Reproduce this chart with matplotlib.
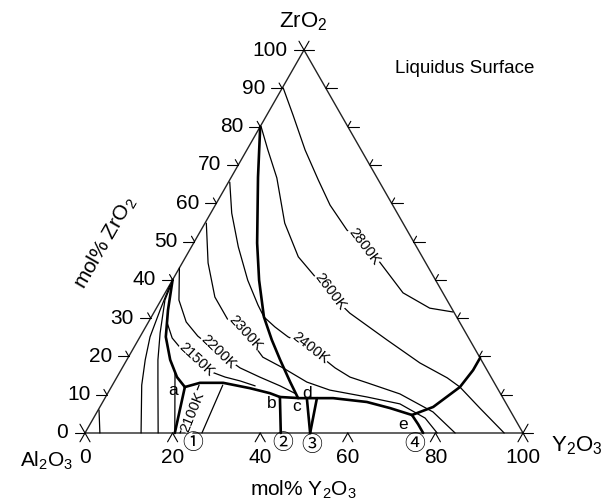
import numpy as np
from matplotlib import pyplot as plt

plt.rcParams['font.family'] = ['Liberation Sans', 'DejaVu Sans']
plt.rcParams['mathtext.default'] = 'regular'

# tick values on the three edges (mol%)
ticks_bottom = [0, 20, 40, 60, 80, 100]
ticks_left = [0, 10, 20, 30, 40, 50, 60, 70, 80, 90, 100]
ticks_side = [10, 20, 30, 40, 50, 60, 70, 80, 90]

# all curves are given as (mol% Y2O3, mol% ZrO2)
# thick boundary lines
zr_bound_y = [0, 6.1, 14.5, 19.8, 25.7, 30.5, 35.0, 40.2, 44.1]
zr_bound_z = [80, 66.8, 49.6, 39.9, 30.3, 24.3, 19.1, 13.3, 9.1]
al_bound_y = [0, 2.9, 5.9, 9.9, 13.7, 16.8]
al_bound_z = [40, 32.1, 25.1, 19.1, 14.6, 12.0]
valley_y = [16.8, 19.7, 25.0, 31.8, 37.0, 39.8, 44.5, 52.1, 60.3, 66.4, 72.3]
valley_z = [12.0, 13.1, 13.1, 11.7, 10.4, 9.4, 9.1, 9.1, 8.1, 6.5, 4.7]
y_bound_y = [72.3, 76.1, 79.6, 80.4, 80.4]
y_bound_z = [4.7, 6.8, 12.0, 16.4, 19.6]
e4_y = [72.3, 74.9, 77.2]
e4_z = [4.7, 2.3, 0]
a1_y = [16.8, 20.5]
a1_z = [12.0, 0]
b2_y = [39.8, 44.7]
b2_z = [9.4, 0]
c3_y = [46.1, 51.4]
c3_z = [9.1, 0]
d3_y = [48.4, 51.4]
d3_z = [9.1, 0]

# thin lines
thin1_y = [12.7, 20.5]
thin1_z = [15.7, 0]
corner1_y = [0.2, 3.4]
corner1_z = [6.0, 0]
corner2_y = [0.1, 1.1, 2.3, 4.2, 6.7, 12.8]
corner2_z = [38.6, 32.1, 25.1, 19.1, 12.5, 0]
corner3_y = [0.2, 0.9, 4.1, 7.1, 10.1, 16.7]
corner3_z = [39.4, 34.7, 26.1, 19.1, 13.1, 0]
slant_y = [25.2, 26.7]
slant_z = [12.5, 0]

# isotherms
iso2100_y = [19.8, 21.7]
iso2100_z = [12.5, 0]
iso2150_y = [4.2, 7.5, 11.3, 15.8, 21.0, 24.7, 28.6, 32.7]
iso2150_z = [29.0, 24.8, 21.7, 19.1, 15.9, 14.6, 13.6, 12.3]
iso2200_y = [0, 4.1, 8.6, 13.1, 19.8, 26.9, 32.6, 38.4, 43.1]
iso2200_z = [43.1, 34.7, 29.0, 25.3, 21.1, 17.0, 14.6, 12.3, 10.2]
iso2300_y = [0.3, 5.9, 11.9, 17.9, 23.5, 30.7, 36.7, 44.0, 50.3, 59.7, 68.1, 75.7, 80.4]
iso2300_z = [54.8, 44.4, 35.5, 29.5, 26.1, 19.8, 17.0, 13.3, 11.2, 9.4, 7.6, 3.9, 0]
iso2400_y = [0.3, 4.8, 10.7, 17.2, 22.8, 25.7, 29.5, 33.8, 40.3, 48.6, 53.2, 57.9, 66.8, 76.7, 84.5]
iso2400_z = [65.5, 57.4, 48.6, 39.9, 33.4, 30.3, 27.7, 25.1, 22.2, 17.0, 14.6, 13.1, 10.2, 5.5, 0]
iso2600_y = [0.2, 4.8, 10.5, 18.2, 25.7, 37.1, 44.8, 56.8, 67.3, 75.5, 79.6, 86.9, 95.7]
iso2600_z = [80.0, 73.9, 66.6, 54.8, 46.0, 36.8, 31.3, 24.3, 18.3, 14.4, 12.0, 6.5, 0]
iso2800_y = [0.2, 6.0, 13.3, 20.2, 26.2, 33.3, 39.3, 45.0, 54.3, 62.4, 68.2]
iso2800_z = [90.1, 83.0, 73.9, 66.1, 59.5, 53.0, 48.8, 44.6, 36.6, 32.6, 31.6]

# isotherm labels: text, mol% Y2O3, mol% ZrO2, angle
iso_labels = [('2800K', 39.3, 48.8, -53), ('2600K', 37.5, 36.8, -53),
              ('2400K', 40.3, 22.2, -38), ('2300K', 23.5, 26.1, -48),
              ('2200K', 19.8, 21.1, -44), ('2150K', 15.8, 19.1, -43),
              ('2100K', 21.9, 5.5, 68)]
# invariant points
point_labels = [('a', 14.5, 11.2), ('b', 38.8, 7.8), ('c', 45.0, 6.8),
                ('d', 45.5, 10.4), ('e', 71.4, 2.3)]
circle_labels = [('\u2460', 26.0, -2.6), ('\u2461', 46.5, -2.6),
                 ('\u2462', 53.4, -3.1), ('\u2463', 76.8, -2.9)]


def tern(y, z):
    # mol% Y2O3 / ZrO2 -> skewed plot coordinates
    y = np.asarray(y, float)
    z = np.asarray(z, float)
    return y + z / 2, z


def line(ax, y, z, lw=0.9, color='black'):
    px, pz = tern(y, z)
    ax.plot(px, pz, color=color, lw=lw, solid_capstyle='round',
            solid_joinstyle='round')


fig = plt.figure(figsize=(6.16, 5), dpi=100)
ax = fig.add_axes([0, 0, 1, 1])
ax.set_xlim(-85 / 4.38, (616 - 85) / 4.38)
ax.set_ylim((433 - 500) / 3.83, 433 / 3.83)
ax.axis('off')

# triangle
line(ax, [0, 100, 0, 0], [0, 0, 100, 0], lw=1.0, color='#222222')

# ticks
t = 2.3
for v in ticks_bottom[1:-1]:
    line(ax, [v, v], [0, -t], lw=0.8)
    line(ax, [v, v + t], [0, -t], lw=0.8)
for v in ticks_side:
    line(ax, [0, -t * 1.1], [v, v], lw=0.8)
    line(ax, [0, -t * 0.6], [v, v + t * 0.6], lw=0.8)
    line(ax, [100 - v, 100 - v + t * 1.1], [v, v], lw=0.8)
    line(ax, [100 - v, 100 - v], [v, v + t * 0.6], lw=0.8)
# corner crosses
line(ax, [-t, 0], [0, 0], lw=0.8)
line(ax, [0, 0], [0, -t], lw=0.8)
line(ax, [-t, t], [t, -t], lw=0.8)
line(ax, [100, 100 + t], [0, 0], lw=0.8)
line(ax, [100, 100 + t], [0, -t], lw=0.8)
line(ax, [100, 100], [-t, t], lw=0.8)
line(ax, [-t, t], [100, 100], lw=0.8)
line(ax, [0, 0], [100, 100 + t], lw=0.8)
line(ax, [0, -t], [100, 100 + t], lw=0.8)

# thin lines and isotherms
for yy, zz in [(thin1_y, thin1_z), (corner1_y, corner1_z), (corner2_y, corner2_z),
               (corner3_y, corner3_z), (slant_y, slant_z), (iso2100_y, iso2100_z),
               (iso2150_y, iso2150_z), (iso2200_y, iso2200_z), (iso2300_y, iso2300_z),
               (iso2400_y, iso2400_z), (iso2600_y, iso2600_z), (iso2800_y, iso2800_z)]:
    line(ax, yy, zz, lw=0.9)

# thick boundaries
for yy, zz in [(zr_bound_y, zr_bound_z), (al_bound_y, al_bound_z), (valley_y, valley_z),
               (y_bound_y, y_bound_z), (e4_y, e4_z), (a1_y, a1_z), (b2_y, b2_z),
               (c3_y, c3_z), (d3_y, d3_z)]:
    line(ax, yy, zz, lw=1.9)

for txt, yy, zz, ang in iso_labels:
    px, pz = tern(yy, zz)
    ax.text(px, pz, txt, fontsize=10.5, rotation=ang, rotation_mode='anchor',
            ha='center', va='center',
            bbox=dict(facecolor='white', edgecolor='none', pad=0.3))
for txt, yy, zz in point_labels:
    px, pz = tern(yy, zz)
    ax.text(px, pz, txt, fontsize=12.5, ha='center', va='center')
for txt, yy, zz in circle_labels:
    px, pz = tern(yy, zz)
    ax.text(px, pz, txt, fontsize=15, ha='center', va='center',
            family=['Noto Sans CJK JP', 'DejaVu Sans'])

# edge labels
for v in ticks_left:
    px, pz = tern(0, v)
    ax.text(px - 3.8, pz, str(v), fontsize=15, ha='right', va='center')
for v in ticks_bottom:
    ax.text(v, -6.3, str(v), fontsize=15, ha='center', va='center')

ax.text(49.8, 107.3, 'ZrO$_2$', fontsize=16, ha='center', va='center')
ax.text(86.8, 95.3, 'Liquidus Surface', fontsize=13.5, ha='center', va='center')
ax.text(-8.8, -7.3, 'Al$_2$O$_3$', fontsize=15, ha='center', va='center')
ax.text(112.3, -3.4, 'Y$_2$O$_3$', fontsize=16, ha='center', va='center')
ax.text(49.8, -14.9, 'mol% Y$_2$O$_3$', fontsize=15, ha='center', va='center')
ax.text(4.6, 49.6, 'mol% ZrO$_2$', fontsize=15, ha='center', va='center', rotation=60)

plt.savefig('out.png', dpi=100)
